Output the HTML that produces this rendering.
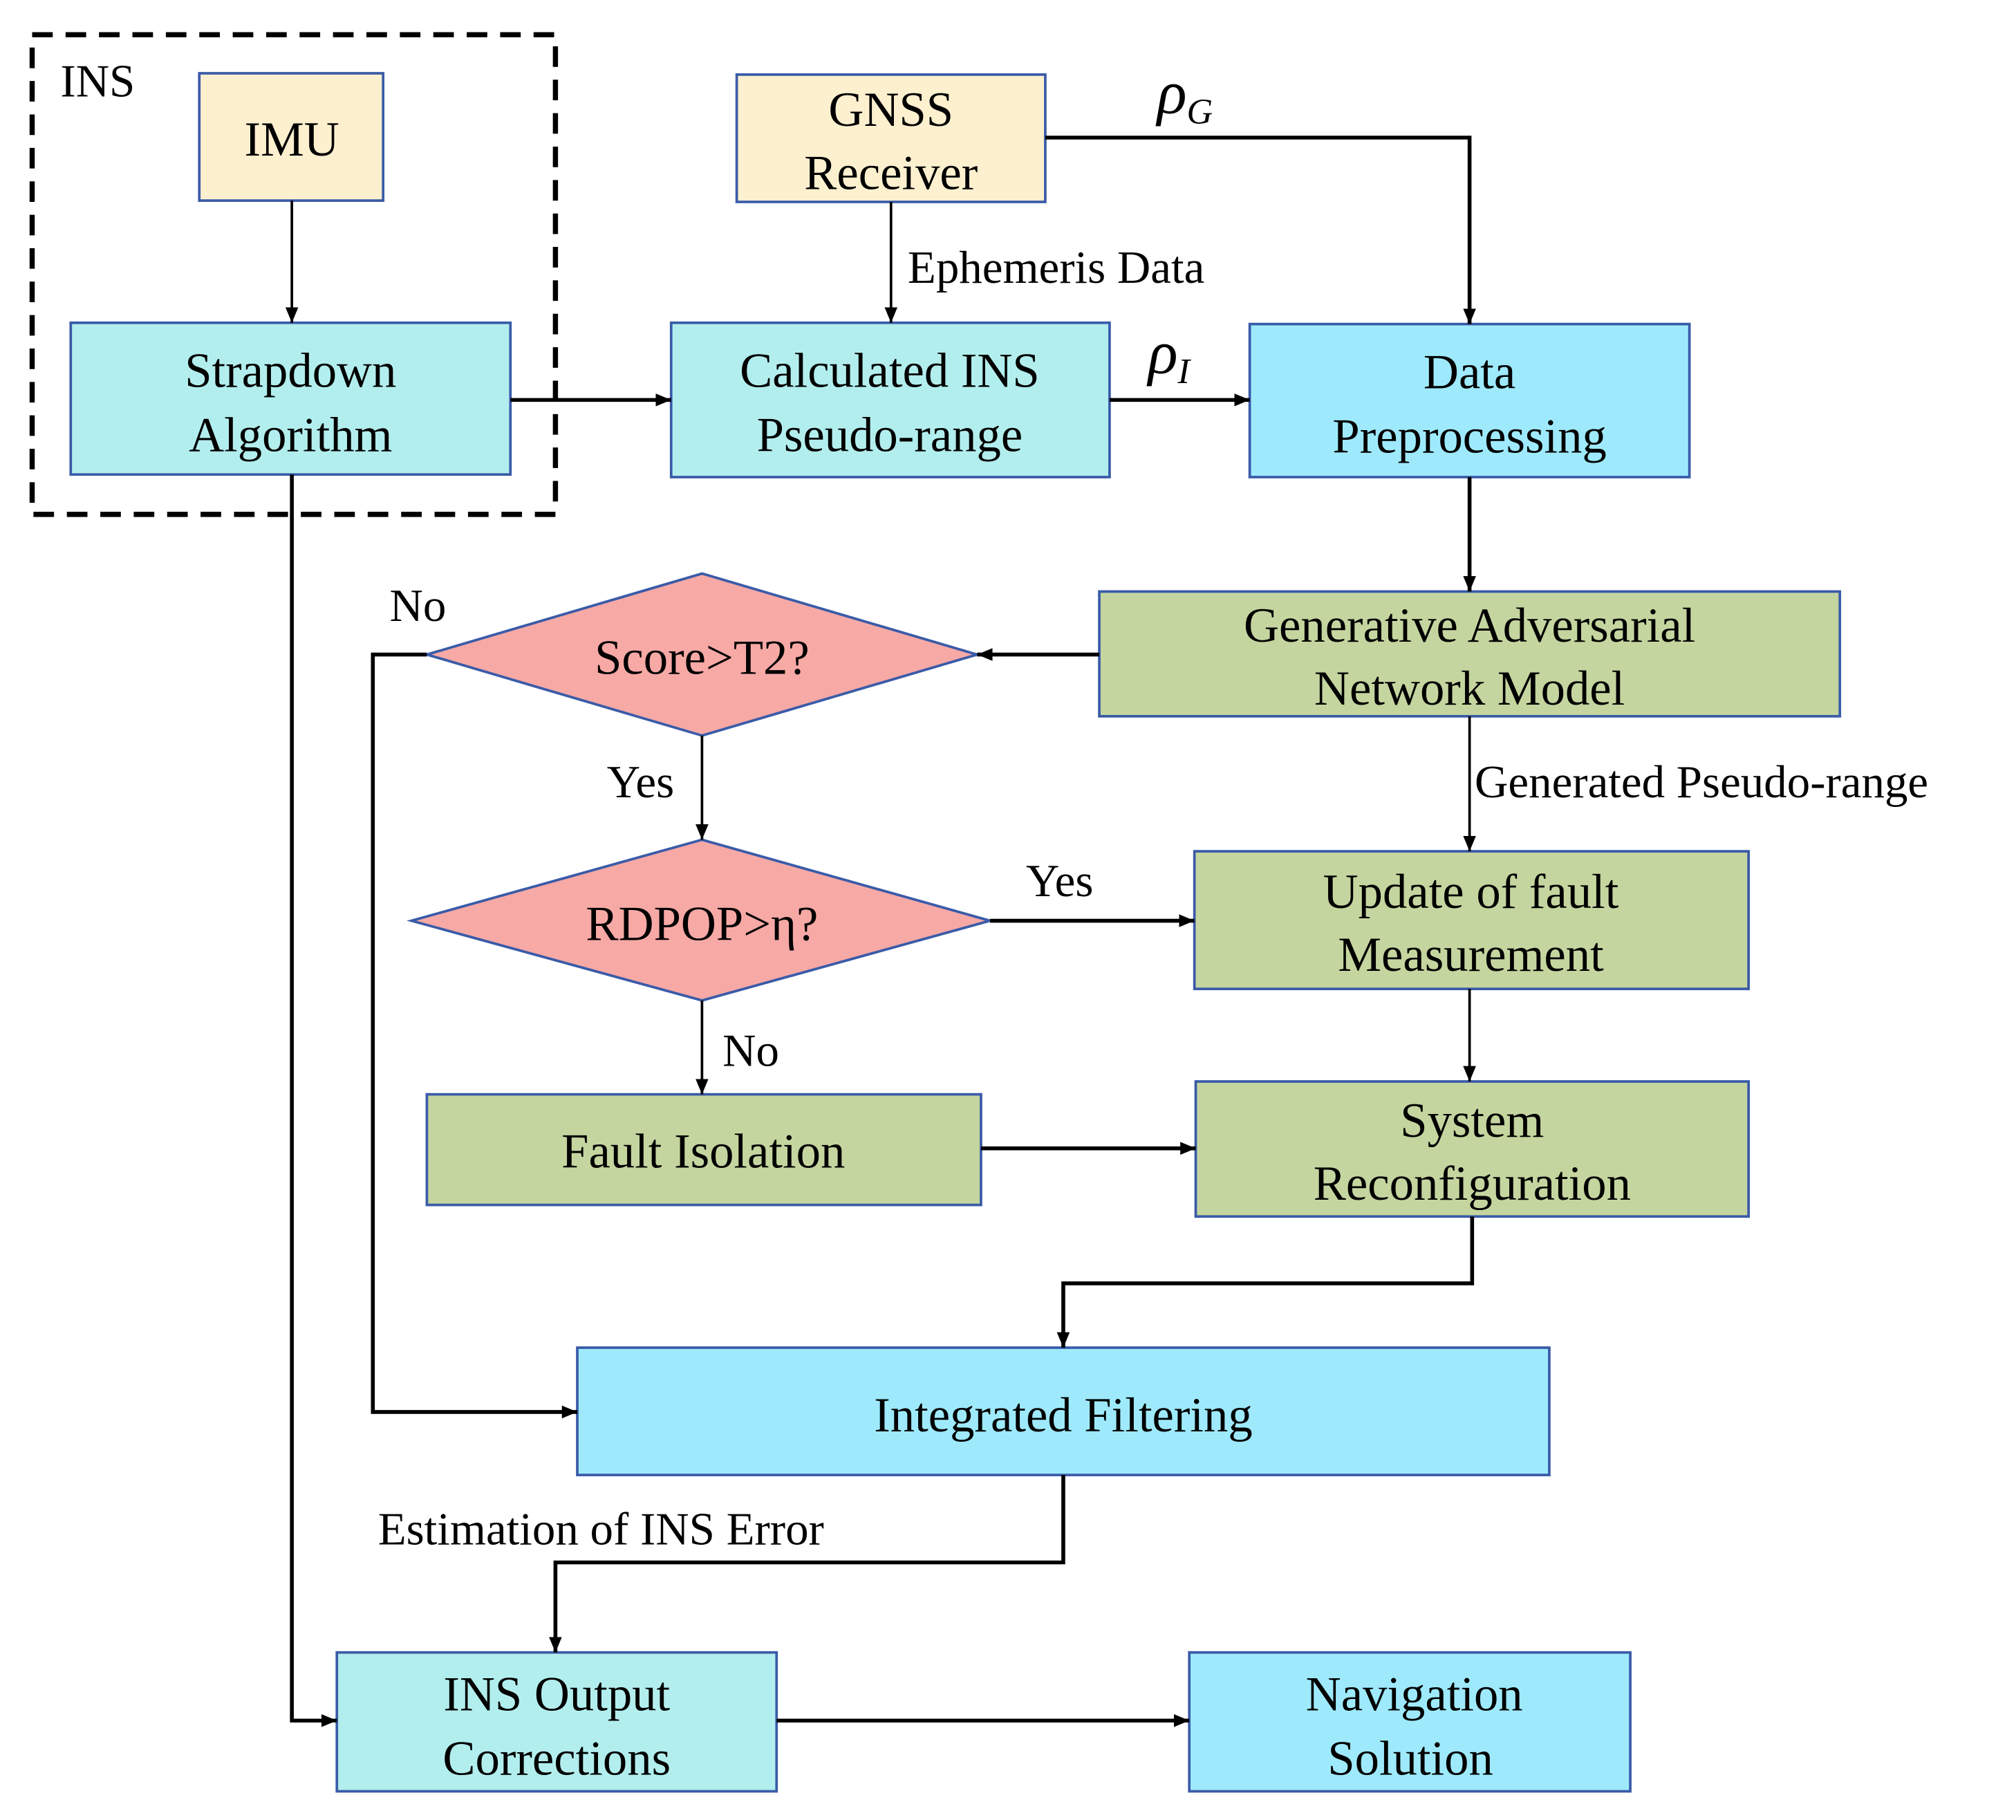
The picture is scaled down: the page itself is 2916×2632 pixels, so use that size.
<!DOCTYPE html>
<html><head><meta charset="utf-8"><style>html,body{margin:0;padding:0;background:#fff}svg{display:block}text{font-family:"Liberation Serif",serif}</style></head>
<body>
<svg width="2916" height="2632" viewBox="0 0 1568 1415.3" xmlns="http://www.w3.org/2000/svg" font-size="38">
<defs>
<marker id="a" viewBox="0 0 12 10" refX="12" refY="5" markerWidth="12" markerHeight="10" markerUnits="userSpaceOnUse" orient="auto"><path d="M0,0L12,5L0,10z" fill="#000"/></marker>
</defs>
<rect width="1568" height="1416" fill="#fff"/>
<rect x="25" y="27" width="407" height="373" fill="none" stroke="#000" stroke-width="4" stroke-dasharray="16,10"/>
<text x="47" y="75" font-size="36">INS</text>
<g stroke="#3a5ba8" stroke-width="2">
<rect x="155" y="57" width="143" height="99" fill="#fdf0cf"/>
<rect x="573" y="58" width="240" height="99" fill="#fdf0cf"/>
<rect x="55" y="251" width="342" height="118" fill="#b3eeee"/>
<rect x="522" y="251" width="341" height="120" fill="#b3eeee"/>
<rect x="972" y="252" width="342" height="119" fill="#9eeafc"/>
<rect x="855" y="460" width="576" height="97" fill="#c5d59f"/>
<polygon points="332,509 546,446 760,509 546,572" fill="#f7a9a6"/>
<polygon points="320,716 546,653 770,716 546,778" fill="#f7a9a6"/>
<rect x="929" y="662" width="431" height="107" fill="#c5d59f"/>
<rect x="332" y="851" width="431" height="86" fill="#c5d59f"/>
<rect x="930" y="841" width="430" height="105" fill="#c5d59f"/>
<rect x="449" y="1048" width="756" height="99" fill="#9eeafc"/>
<rect x="262" y="1285" width="342" height="108" fill="#b3eeee"/>
<rect x="925" y="1285" width="343" height="108" fill="#9eeafc"/>
</g>
<g text-anchor="middle">
<text x="227" y="121">IMU</text>
<text x="693" y="98">GNSS</text><text x="693" y="147">Receiver</text>
<text x="226" y="301">Strapdown</text><text x="226" y="351">Algorithm</text>
<text x="692" y="301">Calculated INS</text><text x="692" y="351">Pseudo-range</text>
<text x="1143" y="302">Data</text><text x="1143" y="352">Preprocessing</text>
<text x="1143" y="499">Generative Adversarial</text><text x="1143" y="548">Network Model</text>
<text x="546" y="524">Score&gt;T2?</text>
<text x="546" y="731">RDPOP&gt;η?</text>
<text x="1144" y="706">Update of fault</text><text x="1144" y="755">Measurement</text>
<text x="547" y="908">Fault Isolation</text>
<text x="1145" y="884">System</text><text x="1145" y="933">Reconfiguration</text>
<text x="827" y="1113">Integrated Filtering</text>
<text x="433" y="1330">INS Output</text><text x="433" y="1380">Corrections</text>
<text x="1100" y="1330">Navigation</text><text x="1097" y="1380">Solution</text>
</g>
<text x="706" y="220" font-size="36">Ephemeris Data</text>
<text x="900" y="88" font-size="48" font-style="italic">ρ<tspan font-size="28" dy="8">G</tspan></text>
<text x="893" y="290" font-size="48" font-style="italic">ρ<tspan font-size="28" dy="8">I</tspan></text>
<text x="303" y="483" font-size="36">No</text>
<text x="472" y="620" font-size="36">Yes</text>
<text x="798" y="697" font-size="36">Yes</text>
<text x="562" y="829" font-size="36">No</text>
<text x="1147" y="620" font-size="36">Generated Pseudo-range</text>
<text x="294" y="1201" font-size="36">Estimation of INS Error</text>
<g fill="none" stroke="#000" stroke-width="2">
<path d="M227,156V251" marker-end="url(#a)"/>
<path d="M693,157V251" marker-end="url(#a)"/>
<path d="M1143,557V662" marker-end="url(#a)"/>
<path d="M1143,769V841" marker-end="url(#a)"/>
<path d="M546,572V653" marker-end="url(#a)"/>
<path d="M546,778V851" marker-end="url(#a)"/>
</g>
<g fill="none" stroke="#000" stroke-width="3">
<path d="M397,311H522" marker-end="url(#a)"/>
<path d="M813,107H1143V252" marker-end="url(#a)"/>
<path d="M863,311H972" marker-end="url(#a)"/>
<path d="M1143,371V460" marker-end="url(#a)"/>
<path d="M855,509H760" marker-end="url(#a)"/>
<path d="M332,509H290V1098H449" marker-end="url(#a)"/>
<path d="M770,716H929" marker-end="url(#a)"/>
<path d="M763,893H930" marker-end="url(#a)"/>
<path d="M1145,946V998H827V1048" marker-end="url(#a)"/>
<path d="M827,1147V1215H432V1285" marker-end="url(#a)"/>
<path d="M227,369V1338H262" marker-end="url(#a)"/>
<path d="M604,1338H925" marker-end="url(#a)"/>
</g>
</svg>
</body></html>
